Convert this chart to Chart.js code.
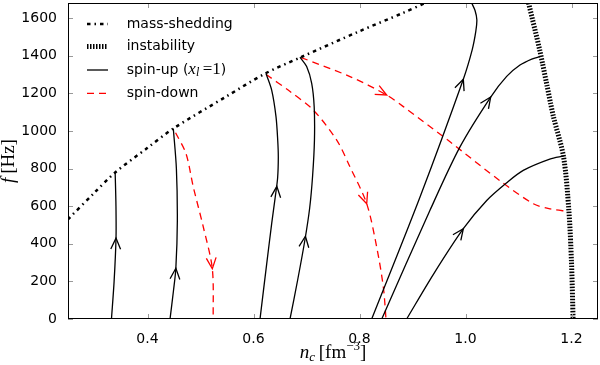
<!DOCTYPE html>
<html><head><meta charset="utf-8">
<script src="https://cdn.jsdelivr.net/npm/chart.js@4/dist/chart.umd.min.js"></script>
<style>html,body{margin:0;padding:0;background:#fff}#wrap{width:600px;height:365px}</style>
</head><body><div id="wrap"><canvas id="c" width="600" height="365"></canvas></div>
<script>
// ---- data (n_c in fm^-3, f in Hz) ----
const xTicks = [0.4, 0.6, 0.8, 1.0, 1.2];
const yTicks = [0, 200, 400, 600, 800, 1000, 1200, 1400, 1600];
const xRange = [0.25, 1.25];
const yRange = [0, 1680];

const massShedding = [[0.25,530],[0.30,672],[0.339,779],[0.40,910],[0.449,1013],[0.55,1185],[0.622,1305],[0.688,1390],[0.80,1530],[0.882,1627],[0.924,1680]];
const instability = [[1.119,1680],[1.14,1430],[1.153,1252],[1.166,1075],[1.185,862],[1.195,578],[1.200,300],[1.203,0]];

const spinUpA = [[0.332,0],[0.337,200],[0.3406,430],[0.3405,600],[0.339,779]];
const spinUpB = [[0.4425,0],[0.449,150],[0.4535,270],[0.4563,520],[0.4545,800],[0.4487,1013]];
const spinUpC = [[0.6123,0],[0.6249,293],[0.6343,507],[0.641,648],[0.6455,750],[0.6468,860],[0.6457,950],[0.6425,1075],[0.6343,1217],[0.6236,1305]];
const spinUpD = [[0.6689,0],[0.6835,210],[0.697,420],[0.706,590],[0.7115,760],[0.715,951],[0.7145,1128],[0.7098,1253],[0.7003,1342],[0.6877,1392]];
const spinUpE = [[0.823,0],[0.9142,649],[0.9959,1275],[1.0126,1431],[1.0195,1530],[1.0214,1591],[1.018,1640],[1.0117,1680]];
const spinUpF = [[0.842,0],[0.933,578],[0.9896,915],[1.0475,1180],[1.0777,1290],[1.1028,1350],[1.125,1382],[1.1406,1395]];
const spinUpG = [[0.889,0],[0.94,240],[0.9959,480],[1.04,630],[1.078,725],[1.109,790],[1.159,850],[1.185,866]];

const spinDown1 = [[0.453,990],[0.4726,880],[0.4864,702],[0.5053,489],[0.5223,267],[0.524,0]];
const spinDown2 = [[0.624,1300],[0.669,1209],[0.7128,1111],[0.757,951],[0.782,809],[0.8136,613],[0.8325,382],[0.845,169],[0.85,0]];
const spinDown3 = [[0.69,1390],[0.782,1289],[0.8513,1191],[0.8827,1129],[0.9708,942],[1.065,735],[1.128,613],[1.16,585],[1.194,572]];

// arrow heads: [tip n, tip f, tail n, tail f]
const spinUpArrows = [[0.3406,430,0.3395,330],[0.4535,270,0.4505,170],[0.644,705,0.641,620],[0.698,440,0.695,380],[0.9959,1275,0.984,1185],[1.0475,1180,1.034,1125],[0.9959,480,0.983,430]];
const spinDownArrows = [[0.5223,267,0.519,360],[0.8136,613,0.805,680],[0.8513,1191,0.83,1222]];

const legendLabels = ['mass-shedding', 'instability', 'spin-up', 'spin-down'];

// ---- styles ----
const RED = '#ff0000';
const SANS = '"DejaVu Sans", sans-serif';
const SERIF = '"Liberation Serif", serif';
const DASHDOT = [3.5, 4, 1.5, 4];
const DOTS = [1.5, 1.5];
const DASH = [7, 5];

const toPts = a => a.map(p => ({x: p[0], y: p[1]}));
function ds(arr, color, width, dash) {
  return {data: toPts(arr), showLine: true, borderColor: color, borderWidth: width,
    borderDash: dash || [], pointRadius: 0, tension: 0.3, fill: false, borderCapStyle: 'butt'};
}

function rich(ctx, parts, x, y, align) {
  let w = 0;
  parts.forEach(p => { ctx.font = p.f; p.w = ctx.measureText(p.t).width; w += p.w; });
  let cx = align === 'center' ? x - w / 2 : x;
  ctx.textAlign = 'left';
  parts.forEach(p => { ctx.font = p.f; ctx.fillText(p.t, cx, y + (p.dy || 0)); cx += p.w; });
}

function arrowHead(ctx, sx, sy, a, color) {
  const tx = sx.getPixelForValue(a[0]), ty = sy.getPixelForValue(a[1]);
  const bx = sx.getPixelForValue(a[2]), by = sy.getPixelForValue(a[3]);
  const ang = Math.atan2(ty - by, tx - bx), L = 12, h = 0.42;
  ctx.strokeStyle = color; ctx.lineWidth = 1.3; ctx.setLineDash([]);
  ctx.beginPath();
  ctx.moveTo(tx - L * Math.cos(ang - h), ty - L * Math.sin(ang - h));
  ctx.lineTo(tx, ty);
  ctx.lineTo(tx - L * Math.cos(ang + h), ty - L * Math.sin(ang + h));
  ctx.stroke();
}

const deco = {
  id: 'deco',
  afterDatasetsDraw(chart) {
    const {ctx, scales: {x, y}} = chart;
    ctx.save();
    spinUpArrows.forEach(a => arrowHead(ctx, x, y, a, '#000'));
    spinDownArrows.forEach(a => arrowHead(ctx, x, y, a, RED));
    ctx.restore();
  },
  afterDraw(chart) {
    const {ctx, chartArea: a, scales: {x, y}} = chart;
    ctx.save();
    // inward ticks on all four sides
    ctx.strokeStyle = '#999'; ctx.lineWidth = 1; ctx.setLineDash([]);
    ctx.beginPath();
    xTicks.forEach(v => { const p = Math.round(x.getPixelForValue(v)) + 0.5;
      ctx.moveTo(p, a.bottom); ctx.lineTo(p, a.bottom - 5); ctx.moveTo(p, a.top); ctx.lineTo(p, a.top + 5); });
    yTicks.forEach(v => { const p = Math.round(y.getPixelForValue(v)) + 0.5;
      ctx.moveTo(a.left, p); ctx.lineTo(a.left + 5, p); ctx.moveTo(a.right, p); ctx.lineTo(a.right - 5, p); });
    ctx.stroke();
    // frame
    ctx.strokeStyle = '#000';
    ctx.strokeRect(a.left + 0.5, a.top + 0.5, a.right - a.left - 1, a.bottom - a.top - 1);

    // legend
    const lx0 = 87, lx1 = 108, tx = 126.7, rows = [24, 46.5, 70, 93.3];
    const sample = (yy, color, w, dash) => { ctx.strokeStyle = color; ctx.lineWidth = w; ctx.setLineDash(dash); ctx.lineCap = 'butt';
      ctx.beginPath(); ctx.moveTo(lx0, yy); ctx.lineTo(lx1, yy); ctx.stroke(); };
    sample(rows[0], '#000', 2.5, DASHDOT);
    sample(rows[1], '#000', 5, DOTS);
    sample(rows[2], '#000', 1.3, []);
    sample(rows[3], RED, 1.3, DASH);
    ctx.setLineDash([]);
    ctx.fillStyle = '#000'; ctx.textBaseline = 'middle';
    ctx.font = '14px ' + SANS; ctx.textAlign = 'left';
    ctx.fillText(legendLabels[0], tx, rows[0]);
    ctx.fillText(legendLabels[1], tx, rows[1]);
    rich(ctx, [
      {t: legendLabels[2] + ' (', f: '14px ' + SANS},
      {t: 'x', f: 'italic 17px ' + SERIF},
      {t: 'l', f: 'italic 12px ' + SERIF, dy: 3},
      {t: '\u2009=1', f: '17px ' + SERIF},
      {t: ')', f: '14px ' + SANS}
    ], tx, rows[2], 'left');
    ctx.font = '14px ' + SANS;
    ctx.fillText(legendLabels[3], tx, rows[3]);

    // axis titles
    ctx.textBaseline = 'alphabetic';
    rich(ctx, [
      {t: 'n', f: 'italic 19px ' + SERIF},
      {t: 'c', f: 'italic 13px ' + SERIF, dy: 3},
      {t: '\u2009[fm', f: '19px ' + SERIF},
      {t: '\u22123', f: '13px ' + SERIF, dy: -8},
      {t: ']', f: '19px ' + SERIF}
    ], (a.left + a.right) / 2, 358, 'center');
    ctx.translate(14, (a.top + a.bottom) / 2);
    ctx.rotate(-Math.PI / 2);
    rich(ctx, [
      {t: 'f', f: 'italic 19px ' + SERIF},
      {t: '\u2009[Hz]', f: '19px ' + SERIF}
    ], 0, 0, 'center');
    ctx.restore();
  }
};

new Chart(document.getElementById('c'), {
  type: 'scatter',
  data: {datasets: [
    ds(massShedding, '#000', 2.5, DASHDOT),
    ds(instability, '#000', 5, DOTS),
    ds(spinUpA, '#000', 1.3), ds(spinUpB, '#000', 1.3), ds(spinUpC, '#000', 1.3), ds(spinUpD, '#000', 1.3),
    ds(spinUpE, '#000', 1.3), ds(spinUpF, '#000', 1.3), ds(spinUpG, '#000', 1.3),
    ds(spinDown1, RED, 1.3, DASH), ds(spinDown2, RED, 1.3, DASH), ds(spinDown3, RED, 1.3, DASH)
  ]},
  options: {
    responsive: false, animation: false, devicePixelRatio: 1,
    layout: {padding: {top: 3, right: 2, left: 0, bottom: 0}},
    plugins: {legend: {display: false}, tooltip: {enabled: false}},
    scales: {
      x: {type: 'linear', min: xRange[0], max: xRange[1],
        grid: {display: false}, border: {display: false},
        ticks: {font: {family: SANS, size: 14}, color: '#000', padding: 4, maxRotation: 0,
          callback: v => Number(v).toFixed(1)},
        afterBuildTicks: s => { s.ticks = xTicks.map(v => ({value: v})); },
        afterFit: s => { s.height = 46; s.paddingLeft = 0; s.paddingRight = 0; }
      },
      y: {type: 'linear', min: yRange[0], max: yRange[1],
        grid: {display: false}, border: {display: false},
        ticks: {font: {family: SANS, size: 14}, color: '#000', padding: 3,
          callback: v => String(v)},
        afterBuildTicks: s => { s.ticks = yTicks.map(v => ({value: v})); },
        afterFit: s => { s.width = 68; s.paddingTop = 0; s.paddingBottom = 0; }
      }
    }
  },
  plugins: [deco]
});
</script></body></html>
